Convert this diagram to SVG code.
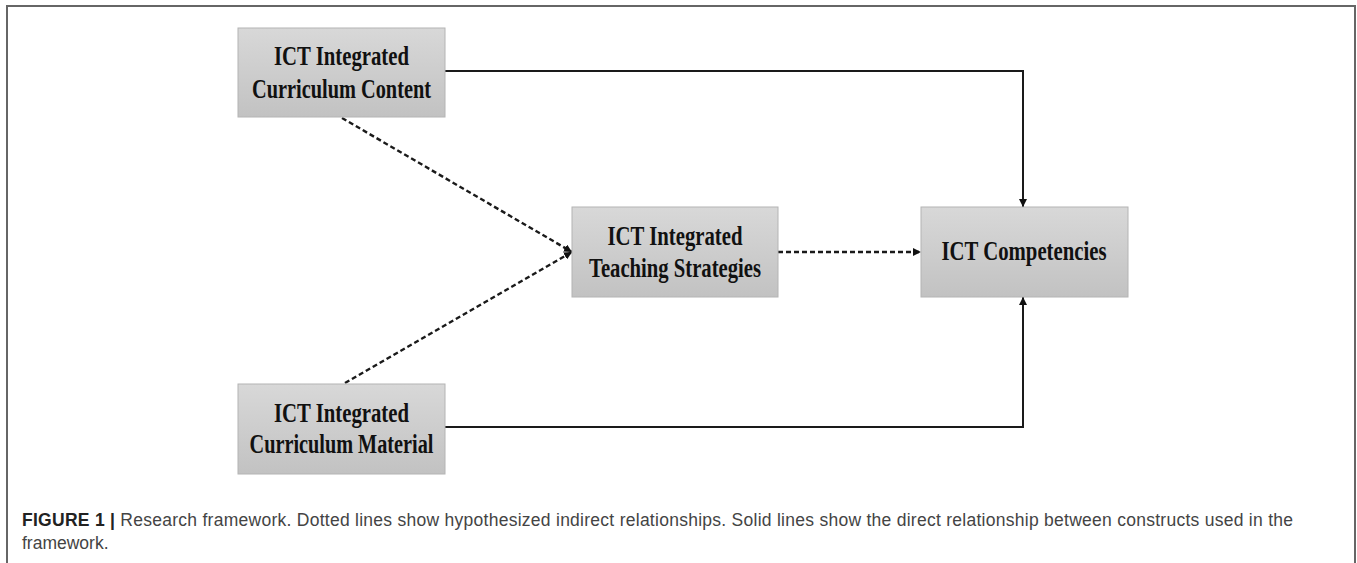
<svg xmlns="http://www.w3.org/2000/svg" width="1357" height="563" viewBox="0 0 1357 563">
<style>
.box{fill:url(#g);stroke:#b4b4b4;stroke-width:1}
.lbl{font-family:"Liberation Serif","Times New Roman",serif;font-weight:bold;font-size:27px;fill:#111;text-anchor:middle}
.solid{fill:none;stroke:#1a1a1a;stroke-width:2}
.dash{fill:none;stroke:#1a1a1a;stroke-width:2.4;stroke-dasharray:5 3}
.cap{font-family:"Liberation Sans",Arial,sans-serif;font-size:17.5px;fill:#444}
</style>
<defs>
<linearGradient id="g" x1="0" y1="0" x2="0" y2="1">
<stop offset="0" stop-color="#d8d8d8"/>
<stop offset="1" stop-color="#c2c2c2"/>
</linearGradient>
<marker id="ah" viewBox="0 0 10 10" refX="10" refY="5" markerWidth="8" markerHeight="8" markerUnits="userSpaceOnUse" orient="auto">
<path d="M0,0 L10,5 L0,10 z" fill="#111"/>
</marker>
</defs>
<g id="frame" fill="none" stroke="#666" stroke-width="2">
<line x1="7" y1="6" x2="1356" y2="6"/>
<line x1="7" y1="5" x2="7" y2="563"/>
<line x1="1355" y1="5" x2="1355" y2="563"/>
</g>
<g id="connectors">
<polyline class="solid" points="445,71 1023,71 1023,207" marker-end="url(#ah)"/>
<polyline class="solid" points="445,427 1023,427 1023,297" marker-end="url(#ah)"/>
<line class="dash" x1="342" y1="118" x2="572" y2="252" marker-end="url(#ah)"/>
<line class="dash" x1="345" y1="383" x2="572" y2="252" marker-end="url(#ah)"/>
<line class="dash" x1="778" y1="252" x2="921" y2="252" marker-end="url(#ah)"/>
</g>
<g id="n-content">
<rect class="box" x="238" y="28" width="207" height="89"/>
<text class="lbl" x="341.5" y="65" textLength="135" lengthAdjust="spacingAndGlyphs">ICT Integrated</text>
<text class="lbl" x="341.5" y="98" textLength="179" lengthAdjust="spacingAndGlyphs">Curriculum Content</text>
</g>
<g id="n-teaching">
<rect class="box" x="572" y="207" width="206" height="90"/>
<text class="lbl" x="675" y="245" textLength="135" lengthAdjust="spacingAndGlyphs">ICT Integrated</text>
<text class="lbl" x="675" y="277" textLength="172" lengthAdjust="spacingAndGlyphs">Teaching Strategies</text>
</g>
<g id="n-competencies">
<rect class="box" x="921" y="207" width="207" height="90"/>
<text class="lbl" x="1024" y="260" textLength="165" lengthAdjust="spacingAndGlyphs">ICT Competencies</text>
</g>
<g id="n-material">
<rect class="box" x="238" y="384" width="207" height="90"/>
<text class="lbl" x="341.5" y="422" textLength="135" lengthAdjust="spacingAndGlyphs">ICT Integrated</text>
<text class="lbl" x="341.5" y="453" textLength="184" lengthAdjust="spacingAndGlyphs">Curriculum Material</text>
</g>
<g id="caption">
<text class="cap" x="22" y="526" textLength="1271" lengthAdjust="spacing"><tspan font-weight="bold" fill="#222">FIGURE 1 |</tspan> Research framework. Dotted lines show hypothesized indirect relationships. Solid lines show the direct relationship between constructs used in the</text>
<text class="cap" x="22" y="549">framework.</text>
</g>
</svg>
